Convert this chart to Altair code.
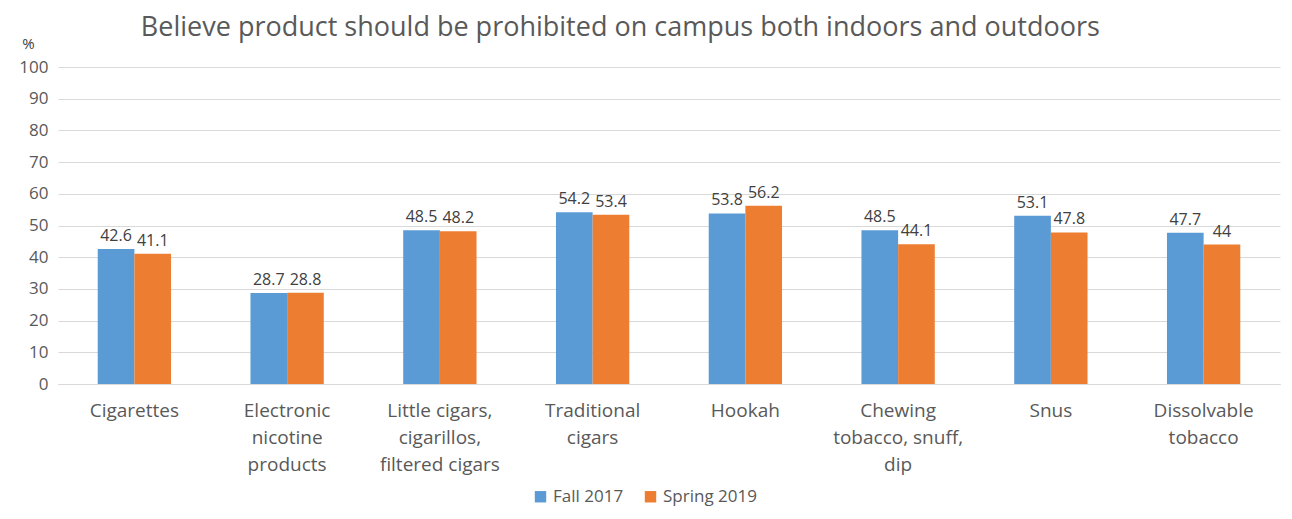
import altair as alt
import pandas as pd

categories = ["Cigarettes", "Electronic|nicotine|products", "Little cigars,|cigarillos,|filtered cigars",
              "Traditional|cigars", "Hookah", "Chewing|tobacco, snuff,|dip", "Snus", "Dissolvable|tobacco"]
fall_2017 = [42.6, 28.7, 48.5, 54.2, 53.8, 48.5, 53.1, 47.7]
spring_2019 = [41.1, 28.8, 48.2, 53.4, 56.2, 44.1, 47.8, 44]
labels_fall = ["42.6", "28.7", "48.5", "54.2", "53.8", "48.5", "53.1", "47.7"]
labels_spring = ["41.1", "28.8", "48.2", "53.4", "56.2", "44.1", "47.8", "44"]
series = ["Fall 2017", "Spring 2019"]
y_ticks = [0, 10, 20, 30, 40, 50, 60, 70, 80, 90, 100]

rows = []
for i, c in enumerate(categories):
    rows.append({"cat": c, "series": series[0], "value": fall_2017[i], "label": labels_fall[i]})
    rows.append({"cat": c, "series": series[1], "value": spring_2019[i], "label": labels_spring[i]})
df = pd.DataFrame(rows)

FONT = "Open Sans"
GRAY = "#595959"

x = alt.X("cat:N", sort=categories, title=None,
          scale=alt.Scale(paddingInner=0.52, paddingOuter=0.26),
          axis=alt.Axis(labelExpr="split(datum.label, '|')", labelAngle=0, labelFontSize=19,
                        labelColor=GRAY, labelFont=FONT, labelLineHeight=27, labelPadding=17,
                        ticks=False, domainColor="#d9d9d9", labelBaseline="top"))
xo = alt.XOffset("series:N", sort=series)
y = alt.Y("value:Q", scale=alt.Scale(domain=[0, 100], nice=False),
          axis=alt.Axis(values=y_ticks, grid=True, gridColor="#d9d9d9",
                        domain=False, ticks=False, labelFontSize=17, labelColor=GRAY,
                        labelFont=FONT, labelPadding=10, labelOverlap=False,
                        title="%", titleAngle=0,
                        titleFontWeight="normal", titleFontSize=15, titleColor="#404040",
                        titleFont=FONT, titleX=-30, titleY=-16))

bars = alt.Chart(df).mark_bar().encode(
    x=x, xOffset=xo, y=y,
    color=alt.Color("series:N", sort=series,
                    scale=alt.Scale(domain=series, range=["#5B9BD5", "#ED7D31"]),
                    legend=alt.Legend(title=None, orient="none", direction="horizontal",
                                      legendX=474, legendY=421, symbolType="square",
                                      symbolSize=130, symbolStrokeWidth=0, labelFontSize=17,
                                      labelColor=GRAY, labelFont=FONT, columnPadding=18,
                                      symbolOpacity=1))
)

text = alt.Chart(df).mark_text(dy=-13, fontSize=16, color="#404040", font=FONT).encode(
    x=x, xOffset=xo, y=y, text="label:N"
)

chart = alt.layer(bars, text).properties(
    width=1222, height=317,
    autosize=alt.AutoSizeParams(type="none"),
    padding={"left": 50, "top": 59, "right": 2, "bottom": 126},
    title=alt.Title("Believe product should be prohibited on campus both indoors and outdoors",
                    anchor="start", dx=122, fontSize=27, font=FONT, fontWeight="normal",
                    color=GRAY, offset=-6)
).configure_view(stroke=None)

chart.save("out.html", embed_options={"renderer": "svg", "actions": False})
